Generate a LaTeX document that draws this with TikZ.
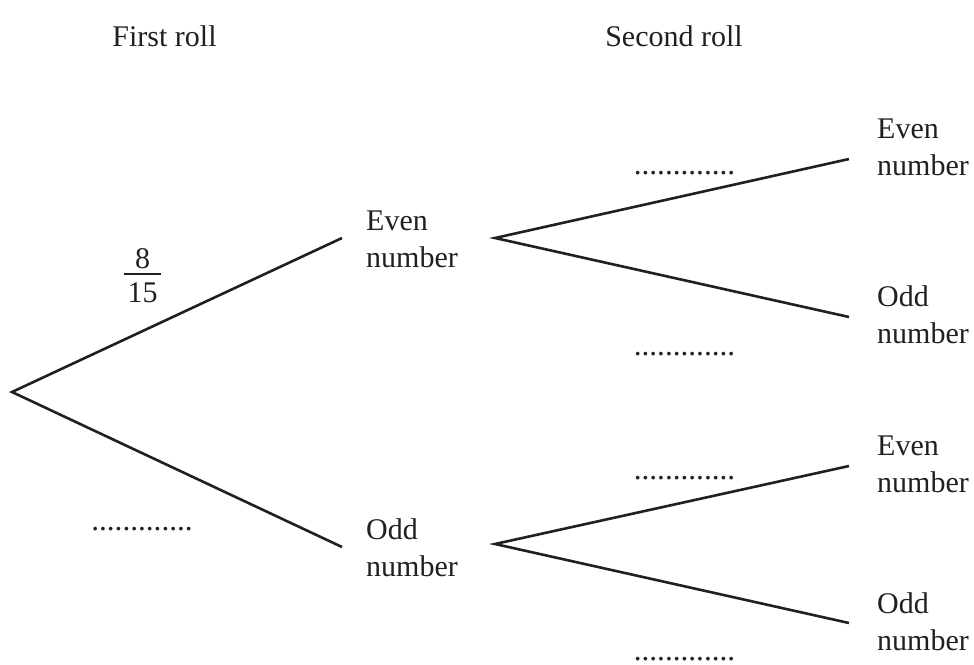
\documentclass[tikz,border=0pt]{standalone}
\usepackage{fontspec}
\setmainfont{Liberation Serif}
\definecolor{ink}{HTML}{231F20}
\begin{document}
\begin{tikzpicture}[x=1pt,y=-1pt,
  branch/.style={draw=ink,line width=2.6pt,line cap=butt},
  % multi-line labels are placed by the baseline of their last line
  lbl/.style={text=ink,inner sep=0pt,font=\fontsize{30}{37}\selectfont,align=left,anchor=base west},
  head/.style={text=ink,inner sep=0pt,font=\fontsize{30}{37}\selectfont,anchor=base},
  blank/.style={text=ink,inner sep=0pt,font=\fontsize{31.2}{37}\selectfont,anchor=base},
  frac/.style={text=ink,inner sep=0pt,font=\fontsize{30}{37}\selectfont,anchor=base}]
\useasboundingbox (0,0) rectangle (974,664);

% column headings
\node[head] (h1) at (164.5,46) {First roll};
\node[head] (h2) at (674,46) {Second roll};

% branch points
\coordinate (root) at (12,392);
\coordinate (E) at (342,238);
\coordinate (O) at (342,547);
\coordinate (Es) at (495,238);
\coordinate (Os) at (495,544);
\coordinate (EE) at (849,159);
\coordinate (EO) at (849,317);
\coordinate (OE) at (849,466);
\coordinate (OO) at (849,623);

% first roll
\draw[branch] (E) -- (root) -- (O);
% second roll
\draw[branch] (EE) -- (Es) -- (EO);
\draw[branch] (OE) -- (Os) -- (OO);

% outcome labels
\node[lbl] (tE) at (366,267) {Even\\number};
\node[lbl] (tO) at (366,576) {Odd\\number};
\node[lbl] (tEE) at (877,175) {Even\\number};
\node[lbl] (tEO) at (877,343) {Odd\\number};
\node[lbl] (tOE) at (877,492) {Even\\number};
\node[lbl] (tOO) at (877,650) {Odd\\number};

% given probability
\node[frac] (num) at (142.5,268) {8};
\node[frac] (den) at (142.5,302) {15};
\coordinate (barL) at (124,274);
\coordinate (barR) at (161,274);
\draw[draw=ink,line width=1.6pt] (barL) -- (barR);

% probabilities to fill in
\node[blank] (pO) at (142,530) {.............};
\node[blank] (pEE) at (684.5,174) {.............};
\node[blank] (pEO) at (684.5,355) {.............};
\node[blank] (pOE) at (684.5,479) {.............};
\node[blank] (pOO) at (684.5,660) {.............};
\end{tikzpicture}
\end{document}
